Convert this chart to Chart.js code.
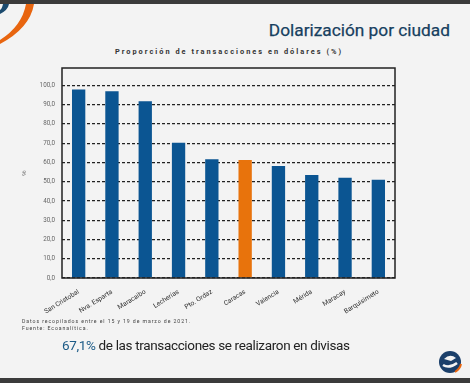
<!DOCTYPE html>
<html>
<head>
<meta charset="utf-8">
<script src="https://cdn.jsdelivr.net/npm/chart.js@4"></script>
<style>
  html, body { margin: 0; padding: 0; }
  body { width: 470px; height: 383px; background: #f3f3f3; position: relative; overflow: hidden; font-family: Roboto, sans-serif; }
  #topbar { position: absolute; left: 0; top: 0; width: 470px; height: 4px; background: #3b3b3b; }
  #bottombar { position: absolute; left: 0; top: 378px; width: 470px; height: 5px; background: #3b3b3b; }
  #title { position: absolute; right: 20px; top: 20px; font-size: 17.3px; font-weight: normal; color: #173f60; -webkit-text-stroke: 0.25px #173f60; }
  #subtitle { position: absolute; left: 0; width: 458px; top: 47px; text-align: center; font-size: 7.4px; font-weight: bold; letter-spacing: 2px; color: #333; }
  #wrap { position: absolute; left: 0; top: 0; width: 470px; height: 320px; }
  #note { position: absolute; left: 22px; top: 318px; font-size: 5.2px; letter-spacing: 0.9px; color: #444; line-height: 7px; }
  #headline { position: absolute; left: 62px; top: 337px; font-size: 13.5px; letter-spacing: -0.35px; color: #222; }
  #headline span { color: #1b5a86; }
  svg { position: absolute; }
</style>
</head>
<body>
<div id="topbar"></div>
<svg style="left:0;top:0" width="45" height="45">
  <path d="M0 14 Q8 10 9 4 L3 4 Q2 9 0 10 Z" fill="#1b4a6e"/>
  <path d="M34 4 Q30 28 0 44 L0 40 Q22 26 26 4 Z" fill="#e8650f"/>
</svg>
<div id="title">Dolarización por ciudad</div>
<div id="subtitle">Proporción de transacciones en dólares (%)</div>
<div id="wrap"><canvas id="myChart"></canvas></div>
<div id="note">Datos recopilados entre el 15 y 19 de marzo de 2021.<br>Fuente: Ecoanalítica.</div>
<div id="headline"><span>67,1%</span> de las transacciones se realizaron en divisas</div>
<svg style="left:437px;top:348px" width="26" height="28">
  <circle cx="13" cy="14" r="11" fill="#1b3f6a"/>
  <path d="M7 11 Q13 5 19 10 L14 13 Z" fill="#f3f3f3"/>
  <path d="M6 17 Q12 21 20 15" stroke="#f3f3f3" stroke-width="2.5" fill="none"/>
  <path d="M18 24 Q23 21 24 16" stroke="#e8650f" stroke-width="2" fill="none"/>
</svg>
<div id="bottombar"></div>
<script>
const cities = ['San Cristobal', 'Nva. Esparta', 'Maracaibo', 'Lecherías', 'Pto. Ordaz', 'Caracas', 'Valencia', 'Mérida', 'Maracay', 'Barquisimeto'];
const shareUsd = [97.9, 96.9, 91.7, 70.2, 61.6, 61.2, 58.1, 53.4, 52.0, 51.0];
const highlightCity = 'Caracas';

const blue = '#0b5592';
const orange = '#e8730c';

// frame around the plot area
const boxPlugin = {
    id: 'box',
    afterDraw(chart) {
        const a = chart.chartArea;
        const c = chart.ctx;
        c.save();
        c.strokeStyle = '#222';
        c.lineWidth = 1.5;
        c.strokeRect(a.left, a.top, a.right - a.left, a.bottom - a.top);
        c.restore();
    }
};

const ctx = document.getElementById('myChart').getContext('2d');
const myChart = new Chart(ctx, {
    type: 'bar',
    data: {
        labels: cities,
        datasets: [{
            data: shareUsd,
            backgroundColor: cities.map(c => c === highlightCity ? orange : blue),
            barPercentage: 0.4,
            categoryPercentage: 1
        }]
    },
    options: {
        responsive: true,
        maintainAspectRatio: false,
        animation: false,
        layout: { padding: { top: 68, right: 75, left: 0, bottom: 0 } },
        plugins: { legend: { display: false }, tooltip: { enabled: false } },
        scales: {
            y: {
                min: 0,
                max: 109,
                afterBuildTicks: s => { s.ticks = s.ticks.filter(t => t.value % 10 === 0); },
                afterFit: s => { s.width = 62; },
                ticks: {
                    stepSize: 10,
                    padding: 7,
                    color: '#666',
                    font: { family: 'Roboto', size: 6.3 },
                    callback: v => v.toFixed(1).replace('.', ',')
                },
                grid: { color: '#222', lineWidth: 1.2, drawTicks: false },
                border: { display: false, dash: [3, 2] },
                title: { display: true, text: '%', color: '#666', font: { size: 6 }, padding: { top: 21, bottom: 0 } }
            },
            x: {
                afterFit: s => { s.height = 42; },
                ticks: {
                    minRotation: 32,
                    maxRotation: 32,
                    padding: 2,
                    color: '#333',
                    font: { family: 'Roboto', size: 6.7 }
                },
                grid: { display: false },
                border: { display: false }
            }
        }
    },
    plugins: [boxPlugin]
});
</script>
</body>
</html>
